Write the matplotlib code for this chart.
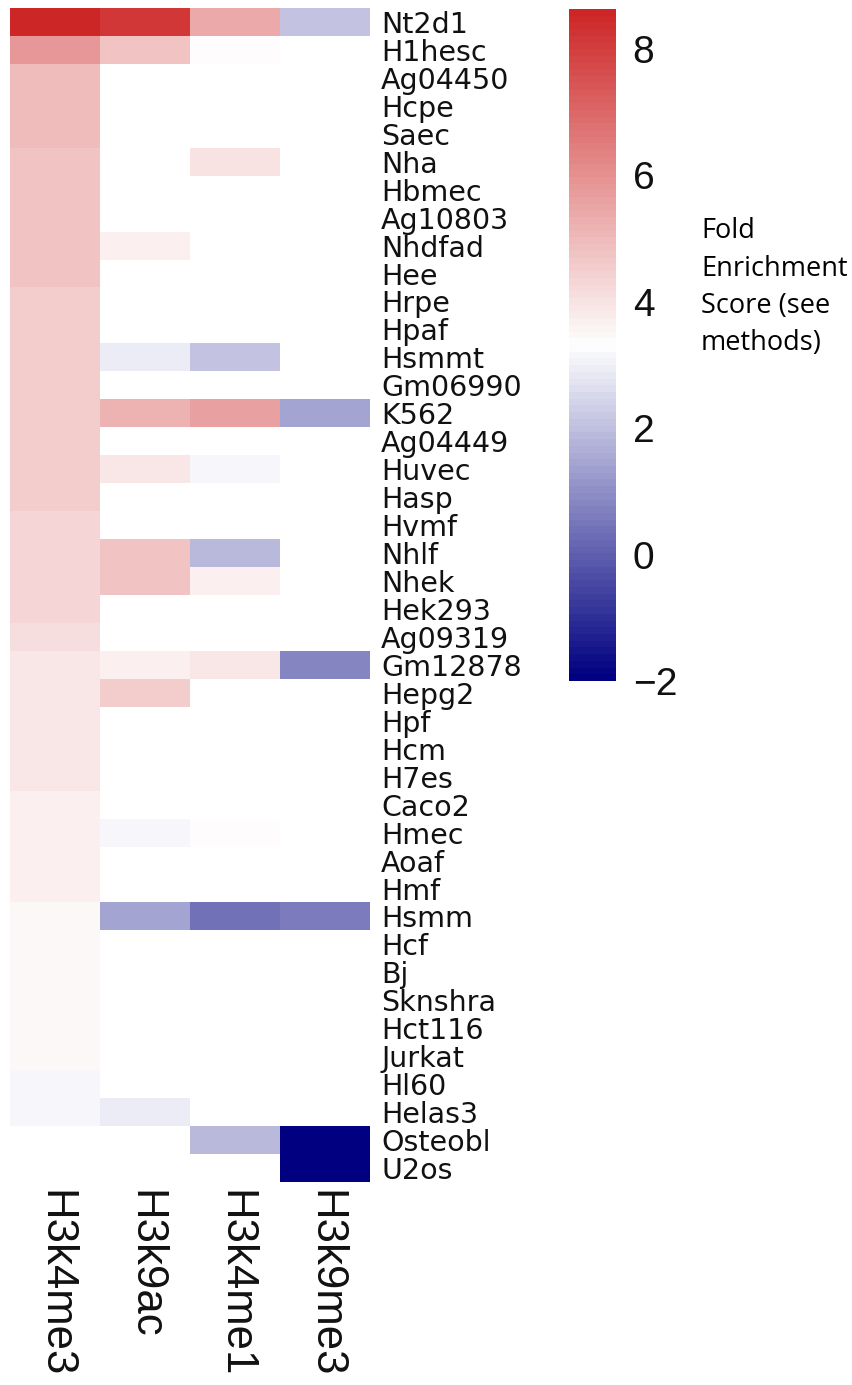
import numpy as np
import matplotlib
matplotlib.use("Agg")
import matplotlib.pyplot as plt
from matplotlib.colors import LinearSegmentedColormap

# rows (cell lines) top to bottom, columns (histone marks)
cell_lines = ["Nt2d1", "H1hesc", "Ag04450", "Hcpe", "Saec", "Nha", "Hbmec", "Ag10803",
              "Nhdfad", "Hee", "Hrpe", "Hpaf", "Hsmmt", "Gm06990", "K562", "Ag04449",
              "Huvec", "Hasp", "Hvmf", "Nhlf", "Nhek", "Hek293", "Ag09319", "Gm12878",
              "Hepg2", "Hpf", "Hcm", "H7es", "Caco2", "Hmec", "Aoaf", "Hmf", "Hsmm",
              "Hcf", "Bj", "Sknshra", "Hct116", "Jurkat", "Hl60", "Helas3", "Osteobl", "U2os"]
marks = ["H3k4me3", "H3k9ac", "H3k4me1", "H3k9me3"]

nan = np.nan
h3k4me3 = [8.63, 5.8, 5.0, 5.0, 5.0, 4.7, 4.7, 4.7, 4.7, 4.7, 4.5, 4.5, 4.5, 4.5, 4.5, 4.5,
           4.5, 4.5, 4.3, 4.3, 4.3, 4.3, 4.15, 3.9, 3.9, 3.9, 3.9, 3.9, 3.7, 3.7, 3.7, 3.7,
           3.45, 3.45, 3.45, 3.45, 3.45, 3.45, 3.15, 3.15, nan, nan]
h3k9ac = [8.2, 4.8, nan, nan, nan, nan, nan, nan, 3.7, nan, nan, nan, 2.9, nan, 5.2, nan,
          3.95, nan, nan, 4.7, 4.7, nan, nan, 3.7, 4.5, nan, nan, nan, nan, 3.15, nan, nan,
          1.45, nan, nan, nan, nan, nan, nan, 2.9, nan, nan]
h3k4me1 = [5.4, 3.4, nan, nan, nan, 4.05, nan, nan, nan, nan, nan, nan, 2.1, nan, 5.6, nan,
           3.15, nan, nan, 1.9, 3.7, nan, nan, 3.9, nan, nan, nan, nan, nan, 3.4, nan, nan,
           0.35, nan, nan, nan, nan, nan, nan, nan, 1.9, nan]
h3k9me3 = [2.1, nan, nan, nan, nan, nan, nan, nan, nan, nan, nan, nan, nan, nan, 1.45, nan,
           nan, nan, nan, nan, nan, nan, nan, 0.85, nan, nan, nan, nan, nan, nan, nan, nan,
           0.6, nan, nan, nan, nan, nan, nan, nan, -2.0, -2.0]

data = np.array([h3k4me3, h3k9ac, h3k4me1, h3k9me3]).T
vmin, vmax = -2.0, 8.63

cmap = LinearSegmentedColormap.from_list("nwf", ["#000080", "#ffffff", "#cd2626"], N=100)
cmap.set_bad("white")

fig = plt.figure(figsize=(8.52, 13.85), dpi=100)
W, H = 852, 1385

ax = fig.add_axes([10 / W, 1 - 1182 / H, 360 / W, 1174 / H])
im = ax.imshow(np.ma.masked_invalid(data), cmap=cmap, vmin=vmin, vmax=vmax,
               aspect="auto", interpolation="nearest")
for s in ax.spines.values():
    s.set_visible(False)
ax.yaxis.tick_right()
ax.set_yticks(np.arange(len(cell_lines)))
ax.set_yticklabels(cell_lines, fontsize=20.5, family="DejaVu Sans", color="#111111")
ax.set_xticks(np.arange(len(marks)))
ax.set_xticklabels(marks, rotation=-90, fontsize=31.5, family="Liberation Sans",
                   color="#111111", va="top", ha="center")
ax.tick_params(axis="y", length=0, pad=8)
ax.tick_params(axis="x", length=0, pad=6)

cax = fig.add_axes([569 / W, 1 - 681 / H, 47 / W, 672 / H])
cb = fig.colorbar(im, cax=cax, ticks=[-2, 0, 2, 4, 6, 8])
cb.outline.set_visible(False)
cax.tick_params(length=0, pad=12, labelsize=28)
for t in cax.get_yticklabels():
    t.set_family("Liberation Sans")
    t.set_color("#111111")

# baseline of the last line ("methods")
fig.text(701 / W, 1 - 350 / H, "Fold\nEnrichment\nScore (see\nmethods)",
         fontsize=19.5, family="Open Sans", va="baseline", ha="left", linespacing=1.44)

fig.savefig("out.png", dpi=100)
